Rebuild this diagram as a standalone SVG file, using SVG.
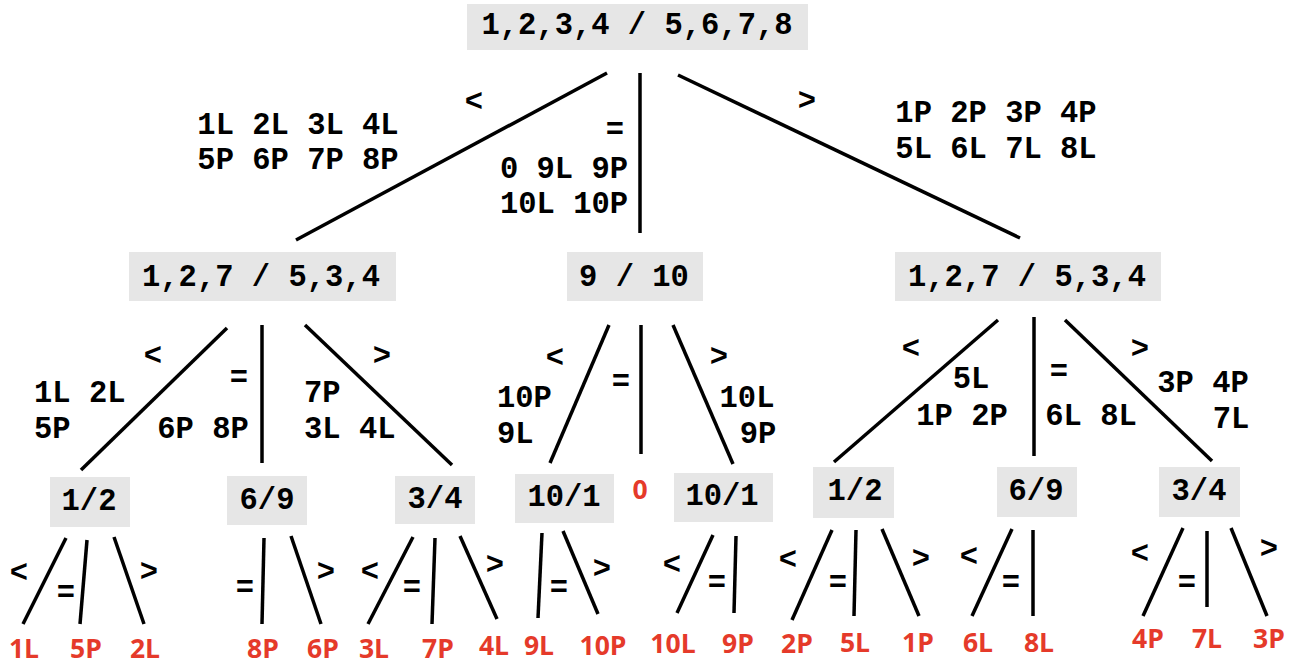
<svg xmlns="http://www.w3.org/2000/svg" width="1299" height="665" viewBox="0 0 1299 665">
  <style>
    .box { fill: #e6e6e6; }
    .t { font-family: "Liberation Mono", "Courier New", monospace; font-weight: bold; font-size: 30.5px; fill: #000; }
    .c { text-anchor: middle; }
    .s { text-anchor: start; }
    .leaf { font-family: "Open Sans", "Noto Sans", sans-serif; font-weight: bold; font-size: 26.5px; fill: #e53a2a; text-anchor: middle; }
    .edge { stroke: #000; stroke-width: 3.5; fill: none; }
  </style>

  <rect width="1299" height="665" fill="#fff"/>

  <!-- weighings (nodes) -->
  <g id="n-root">
    <rect class="box" x="467" y="4" width="341" height="46"/>
    <text class="t c" x="637" y="34">1,2,3,4 / 5,6,7,8</text>
  </g>
  <g id="n-lt">
    <rect class="box" x="129" y="252" width="267" height="49"/>
    <text class="t c" x="261" y="286">1,2,7 / 5,3,4</text>
  </g>
  <g id="n-eq">
    <rect class="box" x="567" y="252" width="136" height="49"/>
    <text class="t c" x="634" y="286">9 / 10</text>
  </g>
  <g id="n-gt">
    <rect class="box" x="895" y="252" width="266" height="49"/>
    <text class="t c" x="1027" y="286">1,2,7 / 5,3,4</text>
  </g>
  <g id="n-lt-lt">
    <rect class="box" x="50" y="477" width="80" height="50"/>
    <text class="t c" x="89" y="510">1/2</text>
  </g>
  <g id="n-lt-eq">
    <rect class="box" x="227" y="476" width="80" height="49"/>
    <text class="t c" x="267" y="509">6/9</text>
  </g>
  <g id="n-lt-gt">
    <rect class="box" x="395" y="476" width="80" height="48"/>
    <text class="t c" x="435" y="508">3/4</text>
  </g>
  <g id="n-eq-lt">
    <rect class="box" x="515" y="474" width="99" height="49"/>
    <text class="t c" x="564" y="506">10/1</text>
  </g>
  <g id="n-eq-eq">
    <text class="leaf" x="640" y="499">0</text>
  </g>
  <g id="n-eq-gt">
    <rect class="box" x="674" y="473" width="99" height="49"/>
    <text class="t c" x="722" y="505">10/1</text>
  </g>
  <g id="n-gt-lt">
    <rect class="box" x="813" y="467" width="81" height="51"/>
    <text class="t c" x="855" y="500">1/2</text>
  </g>
  <g id="n-gt-eq">
    <rect class="box" x="997" y="467" width="80" height="50"/>
    <text class="t c" x="1036" y="500">6/9</text>
  </g>
  <g id="n-gt-gt">
    <rect class="box" x="1159" y="467" width="81" height="50"/>
    <text class="t c" x="1199" y="500">3/4</text>
  </g>

  <!-- outcomes (leaves) -->
  <g id="leaves">
    <text class="leaf" x="24" y="658">1L</text>
    <text class="leaf" x="86" y="658">5P</text>
    <text class="leaf" x="145" y="658">2L</text>
    <text class="leaf" x="263" y="658">8P</text>
    <text class="leaf" x="323" y="658">6P</text>
    <text class="leaf" x="374" y="658">3L</text>
    <text class="leaf" x="438" y="658">7P</text>
    <text class="leaf" x="494" y="655">4L</text>
    <text class="leaf" x="539" y="655">9L</text>
    <text class="leaf" x="603" y="655">10P</text>
    <text class="leaf" x="673" y="653">10L</text>
    <text class="leaf" x="738" y="653">9P</text>
    <text class="leaf" x="797" y="653">2P</text>
    <text class="leaf" x="855" y="652">5L</text>
    <text class="leaf" x="918" y="652">1P</text>
    <text class="leaf" x="978" y="652">6L</text>
    <text class="leaf" x="1039" y="652">8L</text>
    <text class="leaf" x="1148" y="648">4P</text>
    <text class="leaf" x="1207" y="648">7L</text>
    <text class="leaf" x="1269" y="648">3P</text>
  </g>

  <!-- branches -->
  <g id="connectors" class="edge">
    <line x1="607" y1="73" x2="296" y2="240"/>
    <line x1="640" y1="73" x2="640" y2="233"/>
    <line x1="678" y1="75" x2="1020" y2="238"/>

    <line x1="227" y1="328" x2="81" y2="470"/>
    <line x1="262" y1="325" x2="262" y2="463"/>
    <line x1="305" y1="325" x2="452" y2="465"/>
    <line x1="609" y1="325" x2="550" y2="463"/>
    <line x1="641" y1="325" x2="641" y2="454"/>
    <line x1="673" y1="325" x2="733" y2="464"/>
    <line x1="998" y1="320" x2="834" y2="462"/>
    <line x1="1034" y1="317" x2="1034" y2="456"/>
    <line x1="1065" y1="320" x2="1212" y2="461"/>

    <line x1="66" y1="538" x2="23" y2="624"/>
    <line x1="87" y1="540" x2="80" y2="624"/>
    <line x1="114" y1="537" x2="144" y2="624"/>
    <line x1="264" y1="538" x2="262" y2="624"/>
    <line x1="291" y1="536" x2="321" y2="624"/>
    <line x1="413" y1="537" x2="368" y2="624"/>
    <line x1="435" y1="538" x2="432" y2="624"/>
    <line x1="460" y1="536" x2="497" y2="619"/>
    <line x1="542" y1="533" x2="538" y2="618"/>
    <line x1="563" y1="531" x2="598" y2="614"/>
    <line x1="713" y1="535" x2="677" y2="613"/>
    <line x1="736" y1="536" x2="734" y2="613"/>
    <line x1="832" y1="530" x2="792" y2="620"/>
    <line x1="856" y1="530" x2="854" y2="616"/>
    <line x1="882" y1="529" x2="919" y2="616"/>
    <line x1="1012" y1="529" x2="972" y2="616"/>
    <line x1="1033" y1="530" x2="1033" y2="616"/>
    <line x1="1183" y1="528" x2="1143" y2="616"/>
    <line x1="1207" y1="531" x2="1207" y2="607"/>
    <line x1="1231" y1="528" x2="1267" y2="616"/>
  </g>

  <!-- branch labels -->
  <g id="edge-labels" class="t">
    <text class="c" x="474" y="111">&lt;</text>
    <text class="c" x="615" y="139">=</text>
    <text class="c" x="807" y="110">&gt;</text>
    <text class="c" x="298" y="134">1L 2L 3L 4L</text>
    <text class="c" x="298" y="169">5P 6P 7P 8P</text>
    <text class="c" x="564" y="178">0 9L 9P</text>
    <text class="c" x="564" y="213">10L 10P</text>
    <text class="c" x="996" y="122">1P 2P 3P 4P</text>
    <text class="c" x="996" y="158">5L 6L 7L 8L</text>

    <text class="c" x="153" y="365">&lt;</text>
    <text class="c" x="239" y="387">=</text>
    <text class="c" x="382" y="365">&gt;</text>
    <text class="s" x="34" y="402">1L 2L</text>
    <text class="s" x="34" y="438">5P</text>
    <text class="c" x="203" y="438">6P 8P</text>
    <text class="s" x="304" y="402">7P</text>
    <text class="s" x="304" y="438">3L 4L</text>

    <text class="c" x="555" y="367">&lt;</text>
    <text class="c" x="621" y="391">=</text>
    <text class="c" x="719" y="366">&gt;</text>
    <text class="s" x="497" y="407">10P</text>
    <text class="s" x="497" y="443">9L</text>
    <text class="c" x="747" y="407">10L</text>
    <text class="c" x="758" y="443">9P</text>

    <text class="c" x="911" y="358">&lt;</text>
    <text class="c" x="971" y="388">5L</text>
    <text class="c" x="962" y="425">1P 2P</text>
    <text class="c" x="1059" y="381">=</text>
    <text class="c" x="1091" y="425">6L 8L</text>
    <text class="c" x="1140" y="358">&gt;</text>
    <text class="c" x="1203" y="392">3P 4P</text>
    <text class="c" x="1231" y="428">7L</text>

    <text class="c" x="19" y="582">&lt;</text>
    <text class="c" x="66" y="602">=</text>
    <text class="c" x="149" y="581">&gt;</text>
    <text class="c" x="245" y="597">=</text>
    <text class="c" x="326" y="581">&gt;</text>
    <text class="c" x="370" y="581">&lt;</text>
    <text class="c" x="412" y="597">=</text>
    <text class="c" x="495" y="574">&gt;</text>
    <text class="c" x="559" y="597">=</text>
    <text class="c" x="602" y="578">&gt;</text>
    <text class="c" x="672" y="574">&lt;</text>
    <text class="c" x="717" y="592">=</text>
    <text class="c" x="788" y="569">&lt;</text>
    <text class="c" x="838" y="592">=</text>
    <text class="c" x="921" y="568">&gt;</text>
    <text class="c" x="969" y="566">&lt;</text>
    <text class="c" x="1011" y="592">=</text>
    <text class="c" x="1140" y="563">&lt;</text>
    <text class="c" x="1187" y="592">=</text>
    <text class="c" x="1269" y="558">&gt;</text>
  </g>
</svg>
